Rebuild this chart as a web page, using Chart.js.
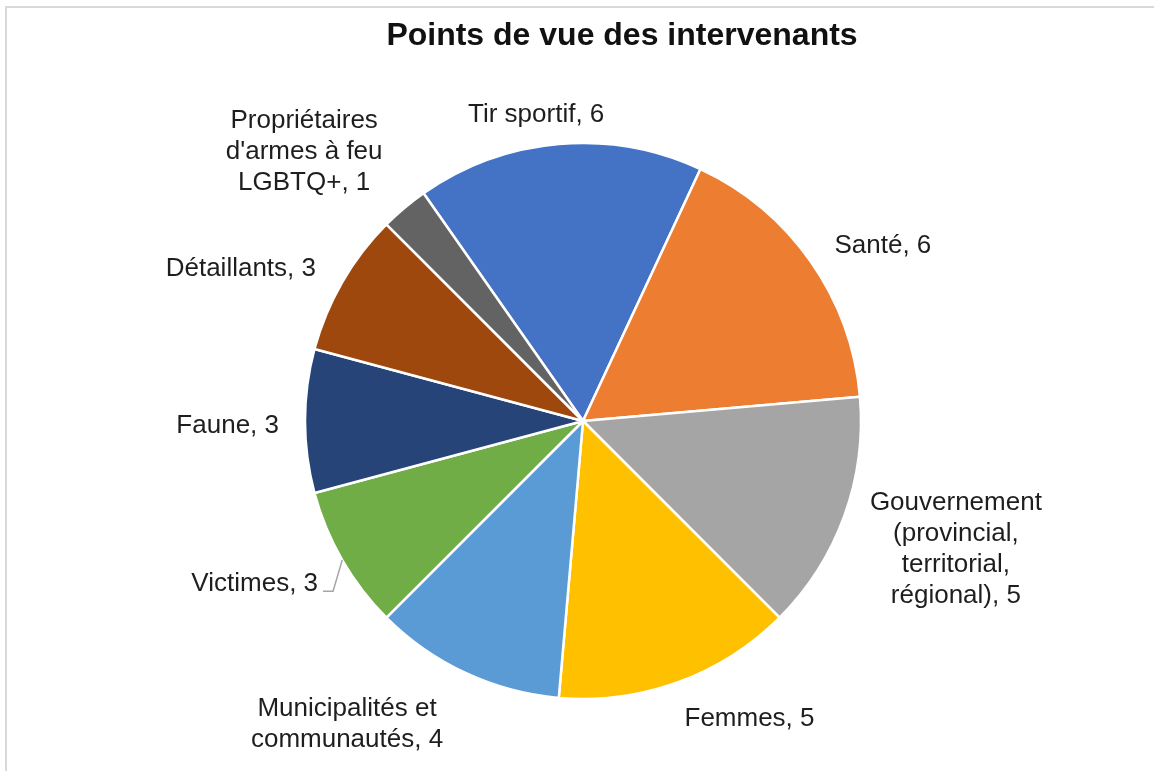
<!DOCTYPE html>
<html lang="fr">
<head>
<meta charset="utf-8">
<title>Points de vue des intervenants</title>
<script src="https://cdn.jsdelivr.net/npm/chart.js@4.4.1/dist/chart.umd.min.js"></script>
<style>
  html, body { margin: 0; padding: 0; background: #fff; }
  #wrap { width: 1154px; height: 771px; }
</style>
</head>
<body>
<div id="wrap"><canvas id="pieChart" width="1154" height="771"></canvas></div>
<script>
// data
const chartTitle = 'Points de vue des intervenants';
const categories = [
  ['Tir sportif'],
  ['Santé'],
  ['Gouvernement', '(provincial,', 'territorial,', 'régional)'],
  ['Femmes'],
  ['Municipalités et', 'communautés'],
  ['Victimes'],
  ['Faune'],
  ['Détaillants'],
  ['Propriétaires', "d'armes à feu", 'LGBTQ+']
];
const values = [6, 6, 5, 5, 4, 3, 3, 3, 1];
const sliceColors = ['#4472C4', '#ED7D31', '#A5A5A5', '#FFC000', '#5B9BD5', '#70AD47', '#264478', '#9E480E', '#636363'];

// label placement tweaks (Excel moved a few labels around)
const labelNudge = [[-19, 12], [16, 24], [-3, -8], [52, -17], [-81, -29], [-16, -17], [-6, 5], [-21, 33], [-32, 25]];
const hasLeader = [false, false, false, false, false, true, false, false, false];
const LINE_H = 31;
const LABEL_GAP = 20;
const LABEL_FONT = '26px "Liberation Sans", Arial, sans-serif';

const framePlugin = {
  id: 'frame',
  beforeDraw(chart) {
    const ctx = chart.ctx;
    ctx.save();
    ctx.fillStyle = '#fff';
    ctx.fillRect(0, 0, chart.width, chart.height);
    ctx.strokeStyle = '#d9d9d9';
    ctx.lineWidth = 2;
    ctx.beginPath();
    ctx.moveTo(6, chart.height);
    ctx.lineTo(6, 7);
    ctx.lineTo(chart.width, 7);
    ctx.stroke();
    ctx.restore();
  },
  afterDraw(chart) {
    const ctx = chart.ctx;
    ctx.save();
    ctx.font = 'bold 32px "Liberation Sans", Arial, sans-serif';
    ctx.fillStyle = '#111';
    ctx.textAlign = 'center';
    ctx.textBaseline = 'middle';
    ctx.fillText(chartTitle, 622, 36);
    ctx.restore();
  }
};

const labelPlugin = {
  id: 'outsideLabels',
  afterDatasetsDraw(chart) {
    const ctx = chart.ctx;
    const meta = chart.getDatasetMeta(0);
    ctx.save();
    ctx.font = LABEL_FONT;
    ctx.fillStyle = '#1e1e1e';
    ctx.textAlign = 'center';
    ctx.textBaseline = 'middle';
    meta.data.forEach((arc, i) => {
      const { x, y, startAngle, endAngle, outerRadius } =
        arc.getProps(['x', 'y', 'startAngle', 'endAngle', 'outerRadius'], true);
      const mid = (startAngle + endAngle) / 2;
      const cos = Math.cos(mid), sin = Math.sin(mid);
      const lines = categories[i].slice();
      lines[lines.length - 1] += ', ' + values[i];
      const w = Math.max(...lines.map(l => ctx.measureText(l).width));
      const h = lines.length * LINE_H;
      const ext = Math.abs(cos) * w / 2 + Math.abs(sin) * h / 2;
      const d = outerRadius + LABEL_GAP + ext;
      const cx = x + cos * d + labelNudge[i][0];
      const cy = y + sin * d + labelNudge[i][1];
      lines.forEach((l, k) => {
        ctx.fillText(l, cx, cy - h / 2 + LINE_H / 2 + k * LINE_H);
      });
      if (hasLeader[i]) {
        const lx = cx + w / 2 + 5, ly = cy + 7;
        ctx.strokeStyle = '#a6a6a6';
        ctx.lineWidth = 1.5;
        ctx.beginPath();
        ctx.moveTo(lx, ly);
        ctx.lineTo(lx + 10, ly);
        ctx.lineTo(x + cos * outerRadius, y + sin * outerRadius);
        ctx.stroke();
      }
    });
    ctx.restore();
  }
};

new Chart(document.getElementById('pieChart').getContext('2d'), {
  type: 'pie',
  data: {
    labels: categories,
    datasets: [{
      data: values,
      backgroundColor: sliceColors,
      borderColor: '#fff',
      borderWidth: 2.5,
      radius: 278,
      hoverOffset: 0
    }]
  },
  options: {
    responsive: false,
    animation: false,
    rotation: -35,
    layout: { padding: { left: 300, right: 288, top: 143, bottom: 72 } },
    plugins: {
      legend: { display: false },
      title: { display: false },
      tooltip: { enabled: false }
    }
  },
  plugins: [framePlugin, labelPlugin]
});
</script>
</body>
</html>
